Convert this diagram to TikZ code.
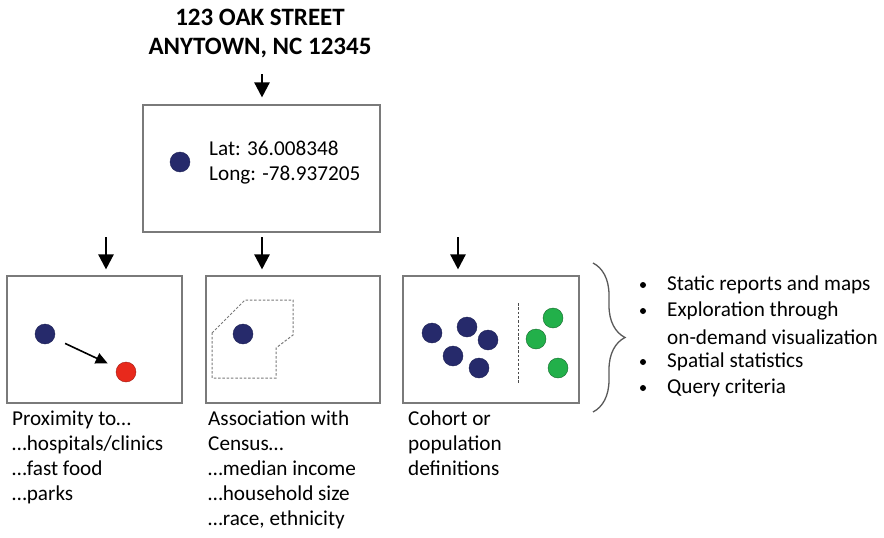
\documentclass[tikz,border=0pt]{standalone}
\usepackage{fontspec}
\setmainfont{Carlito}
\usetikzlibrary{arrows.meta,decorations.pathreplacing}
\definecolor{navy}{HTML}{262A6B}
\definecolor{hotred}{HTML}{E8291C}
\definecolor{leaf}{HTML}{22B04A}
\definecolor{frame}{HTML}{7A7A7A}
\tikzset{
  panel/.style={draw=frame, line width=1.1pt, fill=white},
  arr/.style={-{Triangle[length=15pt,width=15pt]}, line width=2.4pt, black},
  navydot/.style={circle, fill=navy, draw=navy!80!black, minimum size=20pt, inner sep=0pt},
  reddot/.style={circle, fill=hotred, draw=hotred!70!black, minimum size=20pt, inner sep=0pt},
  greendot/.style={circle, fill=leaf, draw=leaf!60!black, minimum size=20pt, inner sep=0pt},
  caption/.style={anchor=north west, align=left, inner sep=0pt, font=\fontsize{21.2}{25}\selectfont},
  bullet/.style={circle, fill=black, minimum size=6pt, inner sep=0pt},
  btext/.style={anchor=west, inner sep=0pt, font=\fontsize{21.2}{25}\selectfont},
}
\begin{document}
\begin{tikzpicture}[x=1pt,y=-1pt]
\useasboundingbox (0,0) rectangle (884,538);

% address
\node[font=\bfseries\fontsize{25}{29}\selectfont, align=center, inner sep=0pt] (addr) at (260,33)
  {123 OAK STREET\\ANYTOWN, NC 12345};

% geocoded point
\node[panel, minimum width=237pt, minimum height=127pt, inner sep=0pt] (top) at (261.5,168.5) {};
\node[navydot] (pt) at (180,162) {};
\node[caption, anchor=west] (coords) at (209,163) {Lat: 36.008348\\Long: -78.937205};
\coordinate (a0) at (262,74);
\draw[arr, shorten >=7pt] (a0) -- (a0 |- top.north);

% three analysis panels
\node[panel, minimum width=175pt, minimum height=127pt, inner sep=0pt] (b1) at (94.5,339.5) {};
\node[panel, minimum width=174pt, minimum height=127pt, inner sep=0pt] (b2) at (293,339.5) {};
\node[panel, minimum width=176pt, minimum height=127pt, inner sep=0pt] (b3) at (491,339.5) {};

\coordinate (a1) at (106,237);
\coordinate (a2) at (262,237);
\coordinate (a3) at (458,237);
\draw[arr, shorten >=6pt] (a1) -- (a1 |- b1.north);
\draw[arr, shorten >=6pt] (a2) -- (a2 |- b2.north);
\draw[arr, shorten >=6pt] (a3) -- (a3 |- b3.north);

% proximity
\node[navydot] (home) at (45,334) {};
\node[reddot] (poi) at (126,372) {};
\draw[-{Triangle[length=12pt,width=11pt]}, line width=1.6pt, shorten <=12pt, shorten >=10pt] (home) -- (poi);

% census tract
\draw[frame, line width=1pt, dash pattern=on 2.5pt off 1.8pt]
  (212,333) -- (245,300) -- (293,300) -- (293,335) -- (276,348) -- (276,378) -- (212,378) -- cycle;
\node[navydot] (tractpt) at (243,334) {};

% cohort
\node[navydot] (c1) at (432,333) {};
\node[navydot] (c2) at (467,327) {};
\node[navydot] (c3) at (488,340) {};
\node[navydot] (c4) at (453,356) {};
\node[navydot] (c5) at (479,368) {};
\draw[black!70, line width=1pt, dash pattern=on 2.5pt off 1.8pt] (518,303) -- (518,383);
\node[greendot] (g1) at (553,318) {};
\node[greendot] (g2) at (536,339) {};
\node[greendot] (g3) at (558,368) {};

% captions
\node[caption] (l1) at (12,411) {Proximity to\dots\\\dots hospitals/clinics\\\dots fast food\\\dots parks};
\node[caption] (l2) at (208,411) {Association with\\Census\dots\\\dots median income\\\dots household size\\\dots race, ethnicity};
\node[caption] (l3) at (408,411) {Cohort or\\population\\definitions};

% uses
\draw[line width=1.3pt, black!65, decorate, decoration={brace, amplitude=32pt}]
  (593,263) -- (593,412);
\foreach \y/\t [count=\i] in {285/Static reports and maps, 311/Exploration through, 362/Spatial statistics, 388/Query criteria}{
  \node[bullet] (bu\i) at (643,\y) {};
  \node[btext] (ut\i) at (667,\y) {\t};
}
\node[btext] (ut5) at (667,337) {on-demand visualization};
\end{tikzpicture}
\end{document}
